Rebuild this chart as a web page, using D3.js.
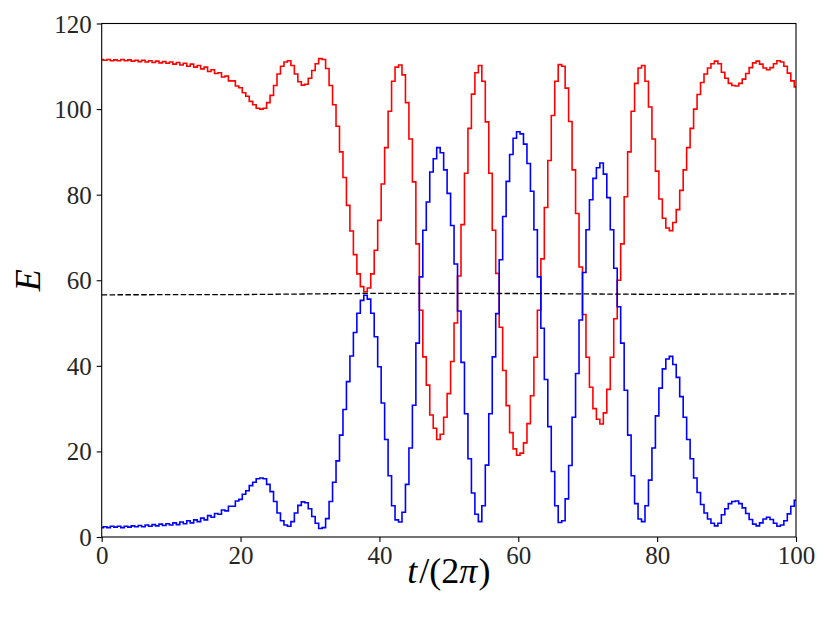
<!DOCTYPE html>
<html lang="en">
<head>
    <meta charset="UTF-8">
    <title>E vs t/(2pi)</title>
    <style>
        body {
            margin: 0;
            background: #fff;
        }

        .tick text {
            font-family: "Liberation Serif", "DejaVu Serif", serif;
            font-size: 25px;
            fill: #262626;
        }

        .tick line, .spine {
            stroke: #000;
            stroke-width: 1.1;
        }

        .axis-label {
            font-family: "Liberation Serif", "DejaVu Serif", serif;
            font-size: 36px;
            fill: #000;
        }
    </style>
</head>
<body>
<div id="chart"></div>
<script src="https://cdn.jsdelivr.net/npm/d3@7"></script>
<script>
    // sampled every half period, starting at t = 0
    const dt = 0.5;

    const redE = [
        111.6, 111.4, 111.6, 111.3, 111.5, 111.3, 111.6, 111.3, 111.5, 111.2,
        111.4, 111.1, 111.4, 111.0, 111.3, 110.9, 111.2, 110.8, 111.1, 110.7,
        111.0, 110.5, 110.9, 110.3, 110.7, 110.0, 110.5, 109.8, 110.2, 109.4,
        109.8, 108.8, 109.2, 108.3, 108.5, 107.5, 107.7, 106.6, 106.6, 105.4,
        105.0, 103.8, 103.0, 101.8, 101.0, 100.2, 100.0, 100.2, 101.5, 103.2,
        105.5, 108.2, 110.0, 111.0, 111.3, 110.2, 108.2, 106.4, 105.6, 105.8,
        107.2, 109.0, 110.6, 111.8, 111.6, 109.5, 105.5, 101.0, 96.0, 90.0,
        84.0, 77.5, 71.5, 66.0, 61.5, 58.5, 57.3, 58.2, 61.5, 67.0,
        74.0, 82.5, 91.0, 99.5, 106.5, 109.8, 110.3, 108.0, 101.5, 93.0,
        83.0, 68.5, 53.0, 42.1, 35.5, 28.5, 25.4, 22.8, 24.0, 28.0,
        33.5, 41.0, 50.0, 61.0, 73.0, 85.0, 95.5, 103.5, 108.5, 110.2,
        106.5, 97.0, 85.0, 71.7, 61.6, 49.0, 38.9, 30.7, 24.4, 20.6,
        19.1, 19.6, 22.0, 26.5, 33.0, 42.0, 53.0, 65.0, 77.0, 88.0,
        98.5, 106.5, 110.4, 110.0, 104.9, 97.1, 85.8, 75.6, 63.1, 52.0,
        42.0, 35.0, 30.0, 27.5, 26.4, 29.0, 34.5, 42.0, 51.0, 60.0,
        68.5, 79.5, 90.0, 99.5, 106.0, 109.6, 110.2, 106.5, 100.5, 93.0,
        85.5, 79.0, 74.5, 72.2, 71.6, 73.5, 76.5, 81.0, 85.8, 91.0,
        95.5, 100.0, 103.4, 106.2, 108.2, 109.6, 110.6, 111.2, 110.6, 108.6,
        107.2, 106.0, 105.5, 105.4, 106.0, 107.0, 108.3, 109.7, 110.8, 111.2,
        110.5, 109.6, 109.2, 109.7, 110.6, 111.3, 111.0, 110.0, 108.4, 106.6,
        105.2
    ];

    const blueE = [
        2.2, 2.4, 2.2, 2.5, 2.3, 2.5, 2.2, 2.5, 2.3, 2.6,
        2.4, 2.7, 2.4, 2.8, 2.5, 2.9, 2.6, 3.0, 2.7, 3.1,
        2.8, 3.3, 2.9, 3.5, 3.1, 3.8, 3.3, 4.0, 3.6, 4.4,
        4.0, 5.0, 4.6, 5.5, 5.3, 6.3, 6.1, 7.2, 7.2, 8.4,
        8.8, 10.0, 10.8, 12.0, 12.8, 13.6, 13.8, 13.6, 12.3, 10.6,
        8.3, 5.6, 3.8, 2.8, 2.5, 3.6, 5.6, 7.4, 8.2, 8.0,
        6.6, 4.8, 3.2, 2.0, 2.2, 4.3, 8.3, 12.8, 17.8, 23.8,
        29.8, 36.3, 42.3, 47.8, 52.3, 55.3, 56.5, 55.6, 52.3, 46.8,
        39.8, 31.3, 22.8, 14.3, 7.3, 4.0, 3.5, 5.8, 12.3, 20.8,
        30.8, 45.3, 60.8, 71.7, 78.3, 85.3, 88.4, 91.0, 89.8, 85.8,
        80.3, 72.8, 63.8, 52.8, 40.8, 28.8, 18.3, 10.3, 5.3, 3.6,
        7.3, 16.8, 28.8, 42.1, 52.2, 64.8, 74.9, 83.1, 89.4, 93.2,
        94.7, 94.2, 91.8, 87.3, 80.8, 71.8, 60.8, 48.8, 36.8, 25.8,
        15.3, 7.3, 3.4, 3.8, 8.9, 16.7, 28.0, 38.2, 50.7, 61.8,
        71.8, 78.8, 83.8, 86.3, 87.4, 84.8, 79.3, 71.8, 62.8, 53.8,
        45.3, 34.3, 23.8, 14.3, 7.8, 4.2, 3.6, 7.3, 13.3, 20.8,
        28.3, 34.8, 39.3, 41.6, 42.2, 40.3, 37.3, 32.8, 28.0, 22.8,
        18.3, 13.8, 10.4, 7.6, 5.6, 4.2, 3.2, 2.6, 3.2, 5.2,
        6.6, 7.8, 8.3, 8.4, 7.8, 6.8, 5.5, 4.1, 3.0, 2.6,
        3.3, 4.2, 4.6, 4.1, 3.2, 2.5, 2.8, 3.8, 5.4, 7.2,
        8.6
    ];

    // mean energy (dashed)
    const meanT = [0, 20, 40, 60, 80, 100];
    const meanE = [56.6, 56.65, 56.95, 56.9, 56.7, 56.8];

    const xTicks = [0, 20, 40, 60, 80, 100];
    const yTicks = [0, 20, 40, 60, 80, 100, 120];

    let width = 830, height = 623;
    let mLeft = 101.7, mRight = 796, mTop = 23.5, mBottom = 537;

    let svg = d3.select("#chart").append("svg")
        .attr("width", width)
        .attr("height", height);

    let x = d3.scaleLinear().domain([0, 100]).range([mLeft, mRight]);
    let y = d3.scaleLinear().domain([0, 120]).range([mBottom, mTop]);

    let line = d3.line()
        .x(d => x(d[0]))
        .y(d => y(d[1]))
        .curve(d3.curveStep);

    let redPts = redE.map((v, i) => [i * dt, v]);
    let bluePts = blueE.map((v, i) => [i * dt, v]);
    let meanPts = meanT.map((t, i) => [t, meanE[i]]);

    svg.append("path")
        .attr("d", line(redPts))
        .attr("fill", "none")
        .attr("stroke", "#ff0000")
        .attr("stroke-width", 1.6);

    svg.append("path")
        .attr("d", line(bluePts))
        .attr("fill", "none")
        .attr("stroke", "#0000ff")
        .attr("stroke-width", 1.6);

    svg.append("path")
        .attr("d", line.curve(d3.curveLinear)(meanPts))
        .attr("fill", "none")
        .attr("stroke", "#000")
        .attr("stroke-width", 1.3)
        .attr("stroke-dasharray", "5.5,2.4");

    // axes
    let gx = svg.append("g")
        .attr("transform", "translate(0," + mBottom + ")")
        .call(d3.axisBottom(x).tickValues(xTicks).tickSize(5).tickFormat(d3.format("d")));
    gx.select(".domain").remove();
    gx.selectAll(".tick text").attr("y", 27).attr("dy", null);

    let gy = svg.append("g")
        .attr("transform", "translate(" + mLeft + ",0)")
        .call(d3.axisLeft(y).tickValues(yTicks).tickSize(5).tickPadding(5).tickFormat(d3.format("d")));
    gy.select(".domain").remove();
    gy.selectAll(".tick text").attr("dy", "0.34em");

    svg.append("rect")
        .attr("class", "spine")
        .attr("x", mLeft)
        .attr("y", mTop)
        .attr("width", mRight - mLeft)
        .attr("height", mBottom - mTop)
        .attr("fill", "none");

    // labels
    let xl = svg.append("text")
        .attr("class", "axis-label")
        .attr("x", (mLeft + mRight) / 2)
        .attr("y", 583)
        .attr("text-anchor", "middle");
    xl.append("tspan").attr("font-style", "italic").text("t");
    xl.append("tspan").attr("dx", 2).text("/(2");
    xl.append("tspan").attr("font-style", "italic").text("π");
    xl.append("tspan").attr("dx", 1).text(")");

    svg.append("text")
        .attr("class", "axis-label")
        .attr("transform", "translate(40," + (mTop + mBottom) / 2 + ") rotate(-90)")
        .attr("text-anchor", "middle")
        .attr("font-style", "italic")
        .text("E");
</script>
</body>
</html>
